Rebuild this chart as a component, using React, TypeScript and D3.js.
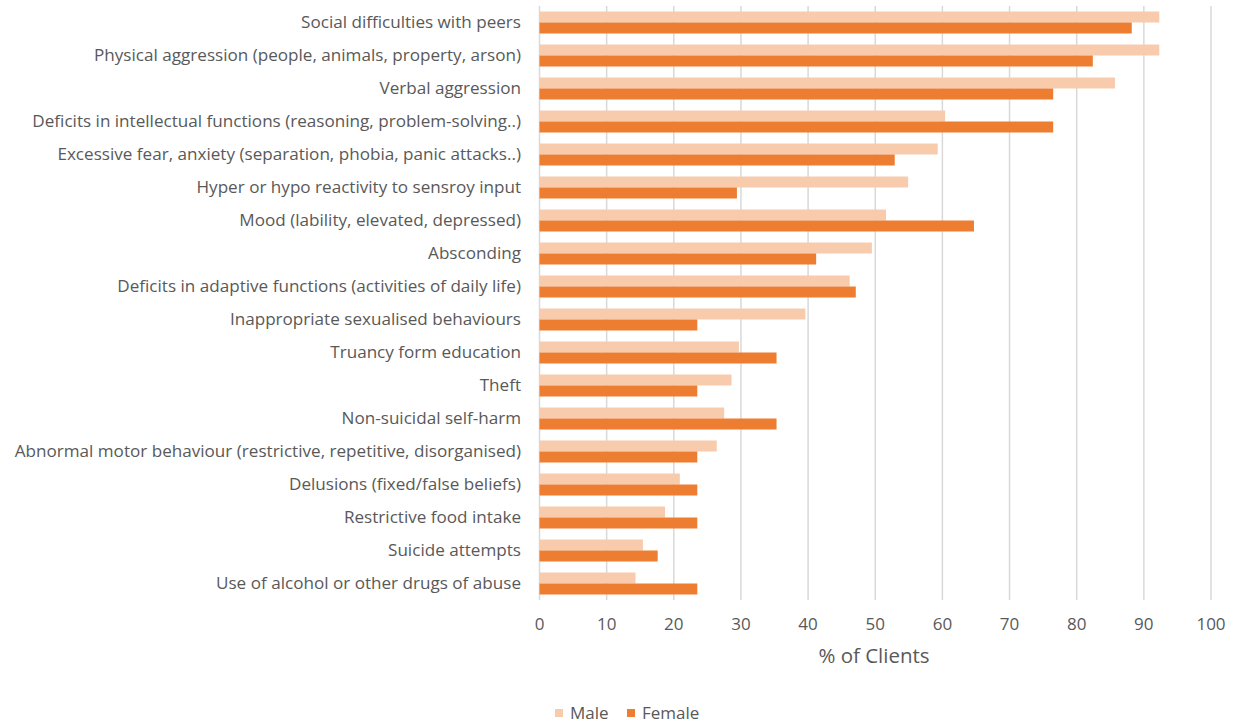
import React from "react";
import * as d3 from "d3";

const categories = [
  "Social difficulties with peers",
  "Physical aggression (people, animals, property, arson)",
  "Verbal aggression",
  "Deficits in intellectual functions (reasoning, problem-solving..)",
  "Excessive fear, anxiety (separation, phobia, panic attacks..)",
  "Hyper or hypo reactivity to sensroy input",
  "Mood (lability, elevated, depressed)",
  "Absconding",
  "Deficits in adaptive functions (activities of daily life)",
  "Inappropriate sexualised behaviours",
  "Truancy form education",
  "Theft",
  "Non-suicidal self-harm",
  "Abnormal motor behaviour (restrictive, repetitive, disorganised)",
  "Delusions (fixed/false beliefs)",
  "Restrictive food intake",
  "Suicide attempts",
  "Use of alcohol or other drugs of abuse",
];

const maleValues = [92.3, 92.3, 85.7, 60.4, 59.3, 54.9, 51.6, 49.5, 46.2, 39.6, 29.7, 28.6, 27.5, 26.4, 20.9, 18.7, 15.4, 14.3];
const femaleValues = [88.2, 82.4, 76.5, 76.5, 52.9, 29.4, 64.7, 41.2, 47.1, 23.5, 35.3, 23.5, 35.3, 23.5, 23.5, 23.5, 17.6, 23.5];

const series = ["Male", "Female"];
const seriesColors = ["#F8CBAD", "#ED7D31"];
const xTicks = [0, 10, 20, 30, 40, 50, 60, 70, 80, 90, 100];
const xTitle = "% of Clients";

const W = 1237;
const H = 725;
const FONT = "'Open Sans', 'Noto Sans', sans-serif";
const TEXT = "#595959";

export default function App() {
  const x = d3.scaleLinear().domain([0, 100]).range([539.5, 1211]);
  const y = d3.scaleBand<string>().domain(categories).range([6, 600]).padding(0);
  const step = y.bandwidth();
  const inner = d3
    .scaleBand<string>()
    .domain(series)
    .range([0, step])
    .paddingInner(0)
    .paddingOuter(0.5);
  const data = [maleValues, femaleValues];
  const legendX = [555, 627];

  return (
    <svg
      width={W}
      height={H}
      style={{ position: "absolute", left: 0, top: 0, background: "#fff" }}
      fontFamily={FONT}
    >
      <g>
        {xTicks.map((t) => (
          <line
            key={t}
            x1={x(t)}
            x2={x(t)}
            y1={6}
            y2={600}
            stroke="#D9D9D9"
            strokeWidth={1.5}
          />
        ))}
      </g>
      <g>
        {categories.map((c, i) => (
          <g key={c} transform={`translate(0,${y(c)})`}>
            {series.map((s, si) => (
              <rect
                key={s}
                x={x(0)}
                y={inner(s)}
                width={x(data[si][i]) - x(0)}
                height={inner.bandwidth()}
                fill={seriesColors[si]}
              />
            ))}
            <text
              x={521}
              y={step / 2}
              dy="0.35em"
              textAnchor="end"
              fontSize={17.1}
              fill={TEXT}
            >
              {c}
            </text>
          </g>
        ))}
      </g>
      <g>
        {xTicks.map((t) => (
          <text
            key={t}
            x={x(t)}
            y={624}
            dy="0.35em"
            textAnchor="middle"
            fontSize={17}
            fill={TEXT}
          >
            {t}
          </text>
        ))}
      </g>
      <text x={874} y={656} dy="0.35em" textAnchor="middle" fontSize={20.5} fill={TEXT}>
        {xTitle}
      </text>
      <g>
        {series.map((s, si) => (
          <g key={s}>
            <rect x={legendX[si]} y={709} width={8} height={8} fill={seriesColors[si]} />
            <text x={legendX[si] + 15} y={713} dy="0.35em" fontSize={17} fill={TEXT}>
              {s}
            </text>
          </g>
        ))}
      </g>
    </svg>
  );
}
